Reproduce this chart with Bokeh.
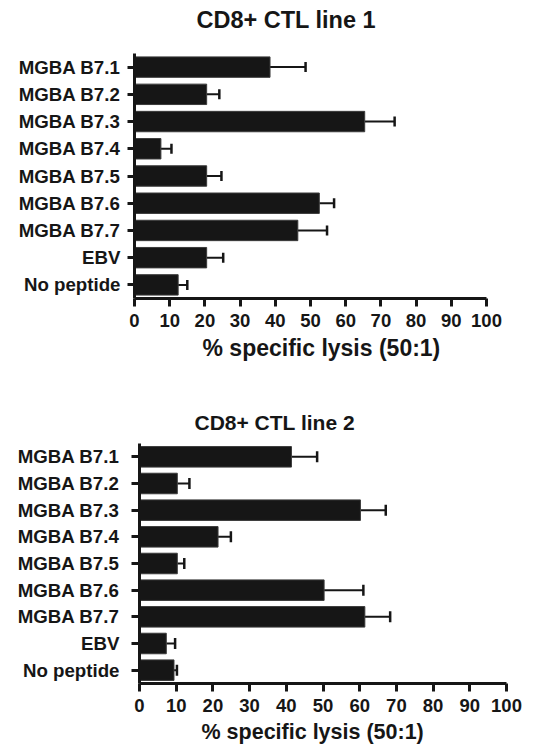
from bokeh.plotting import figure
from bokeh.models import (ColumnDataSource, FactorRange, Range1d, FixedTicker, Whisker,
                          TeeHead, Title, Spacer, LinearAxis)
from bokeh.layouts import column, row
from bokeh.embed import file_html
from bokeh.resources import INLINE

categories = ["MGBA B7.1", "MGBA B7.2", "MGBA B7.3", "MGBA B7.4", "MGBA B7.5",
              "MGBA B7.6", "MGBA B7.7", "EBV", "No peptide"]
line1_lysis = [38.5, 20.5, 65.4, 7.5, 20.5, 52.5, 46.4, 20.5, 12.4]
line1_err = [10.1, 3.6, 8.5, 3.0, 4.2, 4.2, 8.3, 4.7, 2.6]
line2_lysis = [41.4, 10.3, 60.2, 21.4, 10.3, 50.3, 61.4, 7.3, 9.4]
line2_err = [7.0, 3.3, 6.9, 3.5, 1.9, 10.7, 6.9, 2.4, 0.8]
x_ticks = [0, 10, 20, 30, 40, 50, 60, 70, 80, 90, 100]
titles = ["CD8+ CTL line 1", "CD8+ CTL line 2"]
x_label = "% specific lysis (50:1)"

FONT = "Liberation Sans"
INK = "#161616"


def make_panel(title, vals, errs, width, height, frame_w, frame_h, left, top, bar_h,
               title_size, title_off, title_standoff, title_gap, tick_size, tick_standoff,
               ylab_size, ylab_standoff, ytick_out,
               xlab_size, xlab_off, xlab_standoff, cap):
    right = width - left - frame_w
    bottom = height - top - frame_h
    p = figure(width=width, height=height, output_backend="svg", toolbar_location=None,
               y_range=FactorRange(factors=list(reversed(categories)), range_padding=0),
               x_range=Range1d(0, 100),
               frame_width=frame_w, frame_height=frame_h,
               min_border_left=left, min_border_right=right,
               min_border_top=top, min_border_bottom=bottom)
    xa = p.below[0]
    ya = p.left[0]

    p.title.text = title
    p.title.align = "left"
    p.title.offset = title_off
    p.title.text_font = FONT
    p.title.text_font_size = f"{title_size}px"
    p.title.text_font_style = "bold"
    p.title.text_color = INK
    p.title.standoff = title_standoff

    if title_gap > 0:
        # invisible spacer axis between the frame and the title
        gap = LinearAxis(ticker=FixedTicker(ticks=[50]), major_tick_out=title_gap,
                         major_tick_in=0, axis_line_color=None, major_tick_line_color=None,
                         minor_tick_line_color=None, major_label_standoff=0,
                         major_label_overrides={50: ""}, major_label_text_alpha=0,
                         major_label_text_font_size="1px")
        p.add_layout(gap, "above")

    src = ColumnDataSource(dict(cat=categories, val=vals,
                                hi=[v + e for v, e in zip(vals, errs)]))
    w = Whisker(source=src, base="cat", lower="val", upper="hi", dimension="width",
                line_color=INK, line_width=2,
                upper_head=TeeHead(size=cap, line_color=INK, line_width=2.5),
                lower_head=None)
    p.add_layout(w)
    p.hbar(y="cat", left=0, right="val", height=bar_h, source=src,
           fill_color=INK, line_color="#3a3a3a", line_width=1)

    p.outline_line_color = None
    p.xgrid.grid_line_color = None
    p.ygrid.grid_line_color = None

    xa.ticker = FixedTicker(ticks=x_ticks)
    xa.minor_tick_line_color = None
    xa.major_tick_in = 0
    xa.major_tick_out = 8
    xa.major_tick_line_width = 3
    xa.axis_line_width = 3
    xa.axis_line_color = INK
    xa.major_tick_line_color = INK
    xa.major_label_text_font = FONT
    xa.major_label_text_font_size = f"{tick_size}px"
    xa.major_label_text_font_style = "bold"
    xa.major_label_text_color = INK
    xa.major_label_standoff = tick_standoff

    ya.major_tick_in = 0
    ya.major_tick_out = ytick_out
    ya.major_tick_line_width = 3
    ya.axis_line_width = 3
    ya.axis_line_color = INK
    ya.major_tick_line_color = INK
    ya.major_label_text_font = FONT
    ya.major_label_text_font_size = f"{ylab_size}px"
    ya.major_label_text_font_style = "bold"
    ya.major_label_text_color = INK
    ya.major_label_standoff = ylab_standoff

    xt = Title(text=x_label, align="left", offset=xlab_off, text_font=FONT,
               text_font_size=f"{xlab_size}px", text_font_style="bold",
               text_color=INK, standoff=xlab_standoff)
    p.add_layout(xt, "below")
    return p


p1 = make_panel(titles[0], line1_lysis, line1_err, width=549, height=372, frame_w=352, frame_h=245,
                left=134, top=53, bar_h=0.75, title_size=23.5, title_off=62, title_standoff=4,
                title_gap=19, tick_size=18.5, tick_standoff=7, ylab_size=18.7, ylab_standoff=7,
                ytick_out=7, xlab_size=23, xlab_off=68, xlab_standoff=6, cap=10)
p2 = make_panel(titles[1], line2_lysis, line2_err, width=544, height=373, frame_w=367, frame_h=240,
                left=134, top=71, bar_h=0.77, title_size=21, title_off=55, title_standoff=20,
                title_gap=0, tick_size=18.5, tick_standoff=7, ylab_size=18.7, ylab_standoff=12,
                ytick_out=8, xlab_size=21.5, xlab_off=62, xlab_standoff=7, cap=11)

layout = column(p1, row(Spacer(width=5, height=373), p2, spacing=0), spacing=0)
open("out.html", "w").write(file_html(layout, INLINE))
